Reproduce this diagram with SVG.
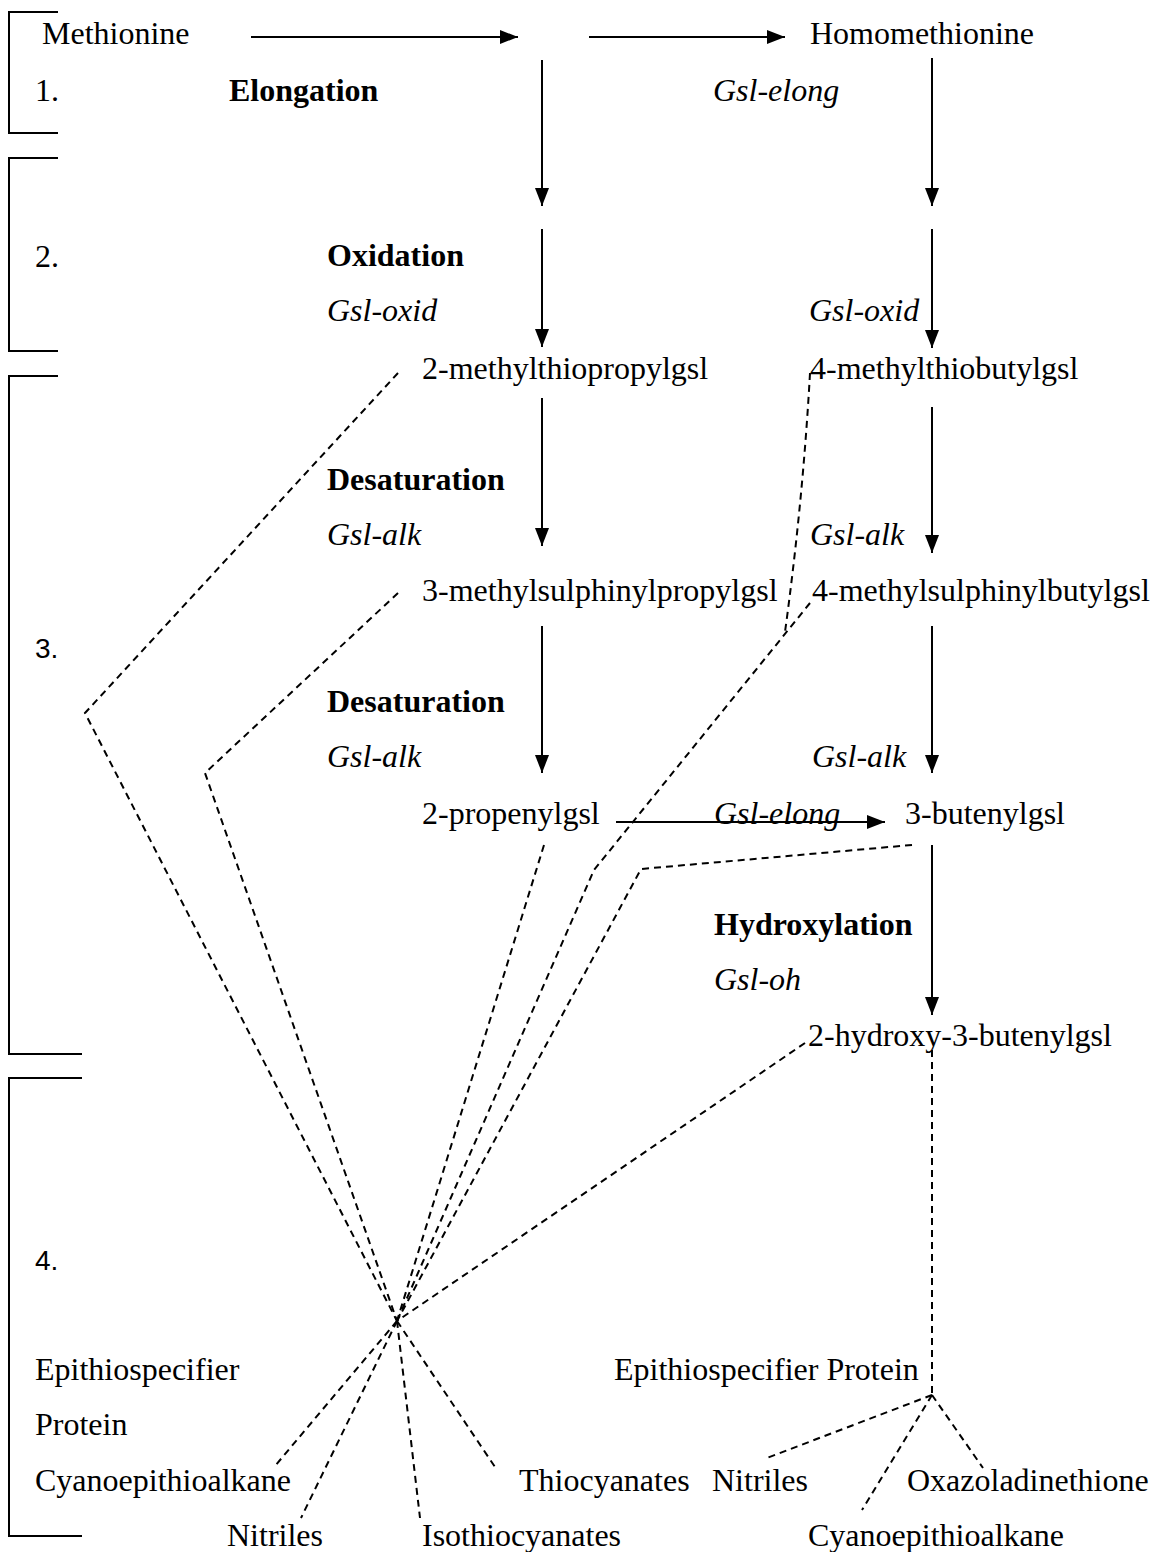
<svg xmlns="http://www.w3.org/2000/svg" width="1155" height="1552" viewBox="0 0 1155 1552">
<style>
text{font-family:"Liberation Serif","Times New Roman",serif;font-size:32px;fill:#000}
.b{font-weight:bold}
.i{font-style:italic}
.s{font-family:"Liberation Sans",Arial,sans-serif;font-size:28px}
.arr{stroke:#000;stroke-width:2;fill:none;marker-end:url(#ah)}
.dash{stroke:#000;stroke-width:2;fill:none;stroke-dasharray:7 5}
.brk{stroke:#000;stroke-width:2;fill:none}
</style>
<defs>
<marker id="ah" markerUnits="userSpaceOnUse" markerWidth="19" markerHeight="16" refX="18" refY="8" orient="auto">
<path d="M0,1 L18,8 L0,15 Z" fill="#000"/>
</marker>
</defs>
<rect width="1155" height="1552" fill="#fff"/>
<g id="brackets">
<path class="brk" d="M58,12 H9 V133 H58"/>
<path class="brk" d="M58,158 H9 V351 H58"/>
<path class="brk" d="M58,376 H9 V1054 H82"/>
<path class="brk" d="M82,1078 H9 V1536 H82"/>
</g>
<g id="connectors">
<path class="arr" d="M251,37 H518"/>
<path class="arr" d="M589,37 H785"/>
<path class="arr" d="M542,60 V206"/>
<path class="arr" d="M542,229 V347"/>
<path class="arr" d="M542,398 V546"/>
<path class="arr" d="M542,626 V773"/>
<path class="arr" d="M932,58 V206"/>
<path class="arr" d="M932,229 V348"/>
<path class="arr" d="M932,407 V553"/>
<path class="arr" d="M932,626 V773"/>
<path class="arr" d="M932,845 V1015"/>
<path class="arr" d="M616,822 H885"/>
<path class="dash" d="M398,373 L85,713 L397,1321"/>
<path class="dash" d="M398,593 L205,773 L397,1321"/>
<path class="dash" d="M544,845 L397,1321"/>
<path class="dash" d="M810,373 Q803,500 785,632"/>
<path class="dash" d="M810,603 L594,870 L397,1321"/>
<path class="dash" d="M912,845 L641,869 L397,1321"/>
<path class="dash" d="M805,1043 L397,1321"/>
<path class="dash" d="M397,1321 L275,1466"/>
<path class="dash" d="M397,1321 L301,1518"/>
<path class="dash" d="M397,1321 L420,1518"/>
<path class="dash" d="M397,1321 L495,1467"/>
<path class="dash" d="M932,1050 V1395"/>
<path class="dash" d="M932,1395 L767,1458"/>
<path class="dash" d="M932,1395 L862,1510"/>
<path class="dash" d="M932,1395 L983,1468"/>
</g>
<g id="step-labels">
<text x="35" y="101">1.</text>
<text x="35" y="267">2.</text>
<text class="s" x="35" y="658">3.</text>
<text class="s" x="35" y="1270">4.</text>
</g>
<g id="n-methionine"><text x="42" y="44">Methionine</text></g>
<g id="n-homomethionine"><text x="810" y="44">Homomethionine</text></g>
<g id="l-elongation"><text class="b" x="229" y="101">Elongation</text></g>
<g id="l-gsl-elong-1"><text class="i" x="713" y="101">Gsl-elong</text></g>
<g id="l-oxidation"><text class="b" x="327" y="266">Oxidation</text></g>
<g id="l-gsl-oxid-1"><text class="i" x="327" y="321">Gsl-oxid</text></g>
<g id="l-gsl-oxid-2"><text class="i" x="809" y="321">Gsl-oxid</text></g>
<g id="n-2mtp"><text x="422" y="379">2-methylthiopropylgsl</text></g>
<g id="n-4mtb"><text x="810" y="379">4-methylthiobutylgsl</text></g>
<g id="l-desat-1"><text class="b" x="327" y="490">Desaturation</text></g>
<g id="l-gsl-alk-1"><text class="i" x="327" y="545">Gsl-alk</text></g>
<g id="l-gsl-alk-2"><text class="i" x="810" y="545">Gsl-alk</text></g>
<g id="n-3msp"><text x="422" y="601">3-methylsulphinylpropylgsl</text></g>
<g id="n-4msb"><text x="812" y="601">4-methylsulphinylbutylgsl</text></g>
<g id="l-desat-2"><text class="b" x="327" y="712">Desaturation</text></g>
<g id="l-gsl-alk-3"><text class="i" x="327" y="767">Gsl-alk</text></g>
<g id="l-gsl-alk-4"><text class="i" x="812" y="767">Gsl-alk</text></g>
<g id="n-2prop"><text x="422" y="824">2-propenylgsl</text></g>
<g id="l-gsl-elong-2"><text class="i" x="714" y="824">Gsl-elong</text></g>
<g id="n-3but"><text x="905" y="824">3-butenylgsl</text></g>
<g id="l-hydrox"><text class="b" x="714" y="935">Hydroxylation</text></g>
<g id="l-gsl-oh"><text class="i" x="714" y="990">Gsl-oh</text></g>
<g id="n-2h3b"><text x="808" y="1046">2-hydroxy-3-butenylgsl</text></g>
<g id="n-esp-left"><text x="35" y="1380">Epithiospecifier</text><text x="35" y="1435">Protein</text></g>
<g id="n-cyano-left"><text x="35" y="1491">Cyanoepithioalkane</text></g>
<g id="n-nitriles-left"><text x="227" y="1546">Nitriles</text></g>
<g id="n-isothio"><text x="422" y="1546">Isothiocyanates</text></g>
<g id="n-thiocyan"><text x="519" y="1491">Thiocyanates</text></g>
<g id="n-esp-right"><text x="614" y="1380">Epithiospecifier Protein</text></g>
<g id="n-nitriles-right"><text x="712" y="1491">Nitriles</text></g>
<g id="n-oxazol"><text x="907" y="1491">Oxazoladinethione</text></g>
<g id="n-cyano-right"><text x="808" y="1546">Cyanoepithioalkane</text></g>
</svg>
